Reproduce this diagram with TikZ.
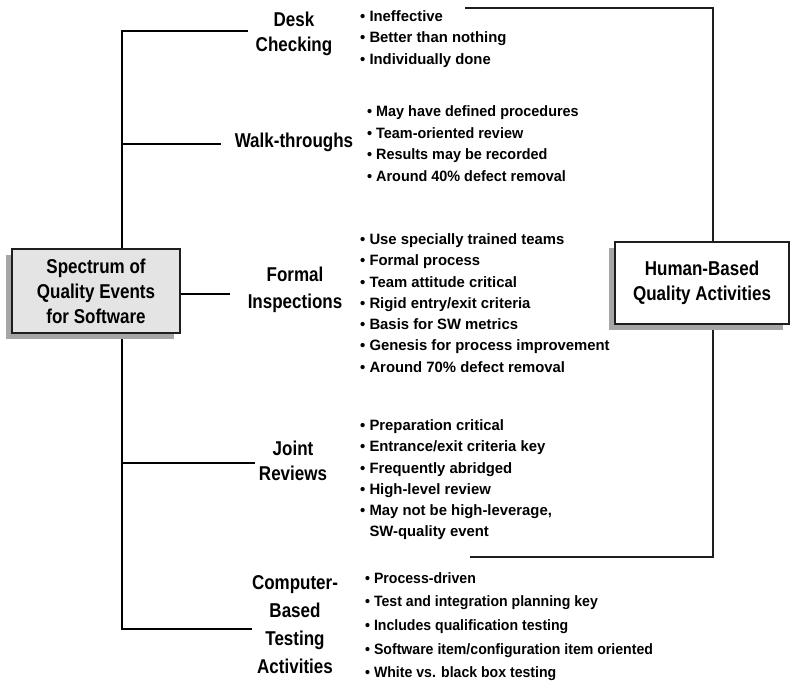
\documentclass[tikz,border=0pt]{standalone}
\usepackage{fontspec}
\setmainfont{Liberation Sans}
\newfontfamily\labf[FakeStretch=0.85]{Liberation Sans}
\newfontfamily\bulf[FakeStretch=0.99]{Liberation Sans}
\newfontfamily\bulw[FakeStretch=0.96]{Liberation Sans}
\newfontfamily\bulc[FakeStretch=0.94]{Liberation Sans}
\usetikzlibrary{shadows,calc}
\definecolor{boxgray}{HTML}{E4E4E4}
\definecolor{shadgray}{HTML}{A6A6A6}
\definecolor{linedark}{HTML}{1E1E1E}
\tikzset{
  tree/.style={line width=2pt, black},
  rtree/.style={line width=1.7pt, linedark},
  lab/.style={align=center, inner sep=0pt, font={\labf\bfseries\fontsize{20}{25}\selectfont}},
  bul/.style={align=left, anchor=north west, inner sep=0pt, font={\bulf\bfseries\fontsize{15}{21.3}\selectfont}},
  mainbox/.style={draw=linedark, line width=1.5pt, align=center, inner sep=0pt,
     font={\labf\bfseries\fontsize{20}{25}\selectfont},
     drop shadow={shadow xshift=-6pt, shadow yshift=-6pt, fill=shadgray, opacity=1}}
}
\begin{document}
\begin{tikzpicture}[x=1pt,y=-1pt]
\useasboundingbox (0,0) rectangle (790,685);
% left tree coordinates
\coordinate (L0) at (122,31);
\coordinate (L1) at (122,144);
\coordinate (L3) at (122,463);
\coordinate (L4) at (122,629);
\coordinate (dE) at (248,31);
\coordinate (wE) at (221,144);
\coordinate (fE) at (230,294);
\coordinate (jE) at (255,463);
\coordinate (cE) at (252,629);
% right tree coordinates
\coordinate (R0) at (713,8);
\coordinate (rS) at (465,8);
\coordinate (R1) at (713,557);
\coordinate (rB) at (470,557);
% lines
\draw[tree] (dE) -- (L0) -- (L4) -- (cE);
\draw[tree] (L1) -- (wE);
\draw[tree] (L3) -- (jE);
\draw[rtree] (rS) -- (R0) -- (R1) -- (rB);
% boxes
\node[mainbox, fill=boxgray, minimum width=168pt, minimum height=84pt] (lbox) at (96,291)
  {Spectrum of\\Quality Events\\for Software};
\node[mainbox, fill=white, minimum width=174pt, minimum height=82pt] (rbox) at (702,283)
  {Human-Based\\Quality Activities};
\draw[tree] (lbox.east |- fE) -- (fE);
% labels
\node[lab] (desk) at (294,34) {Desk\\Checking};
\node[lab] (walk) at (294,142) {Walk-throughs};
\node[lab, font={\labf\bfseries\fontsize{20}{27}\selectfont}] (formal) at (295,290) {Formal\\Inspections};
\node[lab] (joint) at (293,461) {Joint\\Reviews};
\node[lab, font={\labf\bfseries\fontsize{20}{28}\selectfont}] (comp) at (295,625) {Computer-\\Based\\Testing\\Activities};
% bullets
\node[bul] (deskb) at (360,10.4) {• Ineffective\\• Better than nothing\\• Individually done};
\node[bul, font={\bulw\bfseries\fontsize{15}{21.7}\selectfont}] (walkb) at (367,105.4) {• May have defined procedures\\• Team-oriented review\\• Results may be recorded\\• Around 40\% defect removal};
\node[bul] (formalb) at (360,233.4) {• Use specially trained teams\\• Formal process\\• Team attitude critical\\• Rigid entry/exit criteria\\• Basis for SW metrics\\• Genesis for process improvement\\• Around 70\% defect removal};
\node[bul] (jointb) at (360,419.4) {• Preparation critical\\• Entrance/exit criteria key\\• Frequently abridged\\• High-level review\\• May not be high-leverage,\\\phantom{• }SW-quality event};
\node[bul, font={\bulc\bfseries\fontsize{15}{23.7}\selectfont}] (compb) at (365,572) {• Process-driven\\• Test and integration planning key\\• Includes qualification testing\\• Software item/configuration item oriented\\• White vs. black box testing};
\end{tikzpicture}
\end{document}
